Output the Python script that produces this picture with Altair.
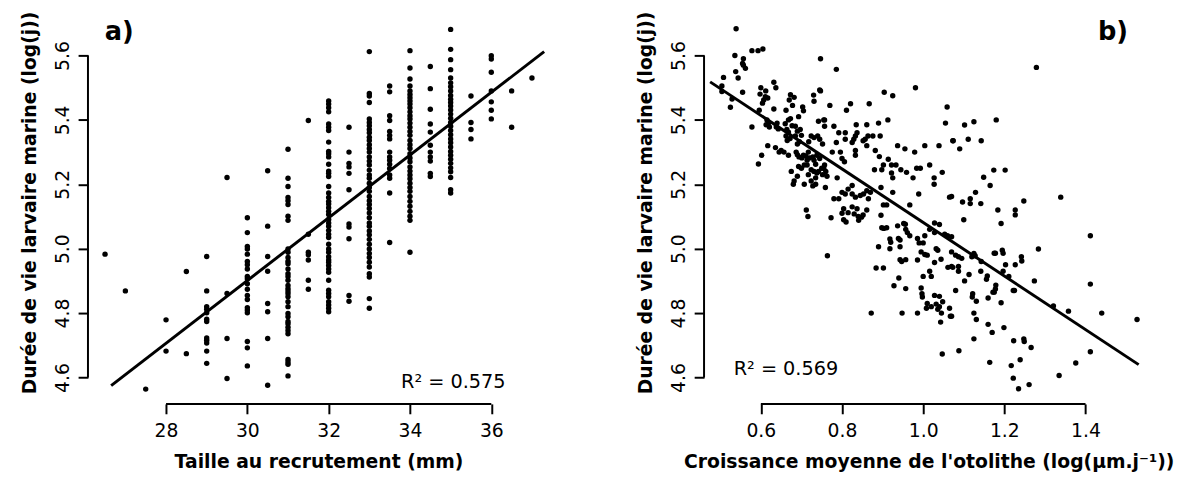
import altair as alt
import pandas as pd

# ---------------- Panel a data: y values per x column (Taille au recrutement, mm)
a_cols = {
    26.5: [4.983],
    27.0: [4.869],
    27.5: [4.564],
    28.0: [4.779, 4.682],
    28.5: [4.929, 4.674],
    29.0: [4.976, 4.869, 4.820, 4.812, 4.801, 4.781, 4.774, 4.723, 4.716, 4.707, 4.682, 4.644],
    29.5: [5.221, 4.861, 4.721, 4.597],
    30.0: [5.096, 5.050, 5.007, 4.999, 4.983, 4.960, 4.950, 4.937, 4.914, 4.907, 4.891, 4.874,
           4.855, 4.842, 4.817, 4.810, 4.801, 4.712, 4.692, 4.636],
    30.5: [5.242, 5.070, 4.976, 4.930, 4.830, 4.804, 4.721, 4.576],
    31.0: [5.309, 5.219, 5.193, 5.159, 5.149, 5.137, 5.101, 5.088, 4.999, 4.989, 4.973, 4.961,
           4.953, 4.937, 4.922, 4.914, 4.902, 4.886, 4.876, 4.869, 4.861, 4.851, 4.835, 4.820,
           4.799, 4.789, 4.774, 4.767, 4.756, 4.746, 4.736, 4.656, 4.648, 4.641, 4.605],
    31.5: [5.398, 5.045, 4.989, 4.981, 4.965, 4.902, 4.874],
    32.0: [5.459, 5.449, 5.438, 5.425, 5.387, 5.377, 5.367, 5.331, 5.302, 5.295, 5.285, 5.262,
           5.241, 5.234, 5.224, 5.193, 5.173, 5.159, 5.147, 5.139, 5.127, 5.116, 5.106, 5.091,
           5.080, 5.070, 5.057, 5.045, 5.035, 5.014, 4.999, 4.989, 4.975, 4.965, 4.958, 4.948,
           4.937, 4.927, 4.902, 4.871, 4.861, 4.851, 4.835, 4.825, 4.815, 4.804],
    32.5: [5.377, 5.300, 5.265, 5.254, 5.234, 5.183, 5.077, 5.067, 5.031, 4.855, 4.837],
    33.0: [5.612, 5.482, 5.474, 5.454, 5.403, 5.392, 5.382, 5.370, 5.360, 5.346, 5.336, 5.323,
           5.311, 5.300, 5.285, 5.272, 5.260, 5.244, 5.229, 5.219, 5.203, 5.190, 5.178, 5.162,
           5.149, 5.137, 5.125, 5.111, 5.096, 5.080, 5.070, 5.055, 5.043, 5.029, 5.014, 4.999,
           4.985, 4.973, 4.958, 4.943, 4.922, 4.912, 4.845, 4.815],
    33.5: [5.505, 5.487, 5.413, 5.398, 5.364, 5.352, 5.341, 5.300, 5.285, 5.275, 5.262, 5.249,
           5.229, 5.219, 5.173, 5.019],
    34.0: [5.615, 5.561, 5.527, 5.505, 5.490, 5.479, 5.469, 5.459, 5.449, 5.438, 5.425, 5.413,
           5.403, 5.390, 5.377, 5.364, 5.352, 5.336, 5.323, 5.311, 5.295, 5.282, 5.270, 5.254,
           5.241, 5.229, 5.217, 5.203, 5.190, 5.178, 5.162, 5.147, 5.132, 5.116, 5.101, 5.088,
           4.989],
    34.5: [5.566, 5.497, 5.433, 5.387, 5.362, 5.321, 5.300, 5.285, 5.272, 5.234, 5.224],
    35.0: [5.681, 5.619, 5.587, 5.556, 5.530, 5.515, 5.503, 5.490, 5.476, 5.464, 5.454, 5.443,
           5.431, 5.418, 5.405, 5.392, 5.380, 5.367, 5.354, 5.341, 5.329, 5.316, 5.302, 5.290,
           5.278, 5.265, 5.251, 5.239, 5.221, 5.183, 5.173],
    35.5: [5.474, 5.392, 5.370, 5.341],
    36.0: [5.599, 5.589, 5.548, 5.490, 5.456, 5.430, 5.403],
    36.5: [5.490, 5.377],
    37.0: [5.530],
}
a_x = [x for x, ys in a_cols.items() for _ in ys]
a_y = [y for ys in a_cols.values() for y in ys]
a_fit_x = [26.65, 37.30]
a_fit_y = [4.575, 5.612]

# ---------------- Panel b data: (croissance moyenne, duree de vie)
b_points = [
    # upper left cloud
    (0.539, 5.683), (0.536, 5.600), (0.557, 5.590), (0.578, 5.615), (0.593, 5.615), (0.605, 5.620),
    (0.557, 5.570), (0.562, 5.560), (0.555, 5.575), (0.538, 5.550), (0.544, 5.530), (0.508, 5.532),
    (0.504, 5.505), (0.504, 5.488), (0.529, 5.465), (0.525, 5.439), (0.555, 5.486),
    (0.600, 5.500), (0.598, 5.480), (0.612, 5.490), (0.611, 5.472), (0.617, 5.468), (0.607, 5.462),
    (0.604, 5.452), (0.632, 5.517), (0.637, 5.500), (0.596, 5.430), (0.578, 5.378), (0.632, 5.434),
    (0.662, 5.430), (0.670, 5.462), (0.673, 5.478), (0.682, 5.470), (0.678, 5.445),
    (0.703, 5.440), (0.705, 5.428), (0.693, 5.410), (0.730, 5.477), (0.731, 5.458), (0.745, 5.493),
    (0.742, 5.396), (0.755, 5.400),
    (0.615, 5.400), (0.619, 5.390), (0.621, 5.378), (0.613, 5.385),
    (0.640, 5.390), (0.643, 5.372), (0.638, 5.378),
    (0.660, 5.388), (0.664, 5.370), (0.668, 5.400), (0.673, 5.404), (0.677, 5.382), (0.685, 5.380),
    (0.668, 5.362), (0.662, 5.350), (0.665, 5.336), (0.672, 5.342), (0.685, 5.350), (0.690, 5.365),
    (0.697, 5.370), (0.700, 5.352), (0.690, 5.325), (0.695, 5.332),
    (0.718, 5.332), (0.724, 5.350), (0.731, 5.345), (0.740, 5.350), (0.745, 5.340), (0.752, 5.325),
    (0.617, 5.320), (0.636, 5.314), (0.645, 5.300), (0.650, 5.305), (0.657, 5.300), (0.668, 5.290),
    (0.602, 5.290), (0.594, 5.263),
    (0.687, 5.300), (0.690, 5.292), (0.694, 5.285), (0.701, 5.282), (0.705, 5.290), (0.711, 5.288),
    (0.714, 5.275), (0.717, 5.300), (0.720, 5.282), (0.728, 5.285), (0.731, 5.275), (0.735, 5.262),
    (0.738, 5.290), (0.745, 5.280),
    (0.675, 5.240), (0.682, 5.210), (0.690, 5.225), (0.693, 5.255), (0.700, 5.250), (0.707, 5.260),
    (0.714, 5.260), (0.717, 5.230), (0.724, 5.245), (0.731, 5.240), (0.735, 5.220), (0.738, 5.235),
    (0.742, 5.240), (0.750, 5.250),
    (0.707, 5.200), (0.724, 5.210), (0.728, 5.195), (0.735, 5.200), (0.680, 5.200), (0.712, 5.120),
    (0.716, 5.100),
    # upper middle
    (0.747, 5.590), (0.786, 5.557), (0.747, 5.490), (0.770, 5.445), (0.821, 5.450), (0.811, 5.430),
    (0.867, 5.450), (0.904, 5.486), (0.925, 5.475), (0.981, 5.500), (1.059, 5.440), (1.055, 5.390),
    (1.073, 5.335),
    (0.757, 5.400), (0.757, 5.380), (0.780, 5.380), (0.792, 5.360), (0.808, 5.360), (0.808, 5.340),
    (0.786, 5.330), (0.829, 5.340), (0.833, 5.350), (0.837, 5.360), (0.825, 5.330), (0.835, 5.385),
    (0.861, 5.385), (0.890, 5.390), (0.913, 5.400),
    (0.852, 5.335), (0.857, 5.340), (0.864, 5.350), (0.876, 5.350), (0.894, 5.350), (0.861, 5.320),
    (0.882, 5.305), (0.937, 5.320), (0.955, 5.310), (0.979, 5.300), (1.004, 5.320), (1.039, 5.320),
    (0.776, 5.300), (0.796, 5.300), (0.833, 5.305), (0.833, 5.290), (0.800, 5.280), (0.806, 5.270),
    (0.755, 5.250), (0.760, 5.240), (0.752, 5.230), (0.763, 5.225), (0.757, 5.260), (0.788, 5.220),
    (0.759, 5.190),
    (0.892, 5.286), (0.914, 5.278), (0.902, 5.260), (0.922, 5.260), (0.933, 5.260), (0.880, 5.245),
    (0.898, 5.245), (0.922, 5.235), (0.925, 5.220), (0.945, 5.245), (0.959, 5.237), (0.975, 5.220),
    (0.984, 5.250), (0.993, 5.250), (1.016, 5.260), (1.027, 5.220), (1.027, 5.200), (1.047, 5.237),
    (0.989, 5.170), (1.065, 5.160), (0.896, 5.190), (0.925, 5.175), (0.967, 5.136), (0.902, 5.136),
    (0.910, 5.136), (0.865, 5.155), (0.853, 5.170), (0.861, 5.180),
    (0.825, 5.196), (0.825, 5.170), (0.833, 5.160), (0.800, 5.175), (0.808, 5.170), (0.792, 5.155),
    (0.780, 5.155), (0.804, 5.124), (0.825, 5.130), (0.837, 5.124), (0.861, 5.120),
    (0.815, 5.185), (0.845, 5.165), (0.870, 5.175),
    # upper right
    (1.279, 5.563), (1.102, 5.384), (1.125, 5.394), (1.180, 5.400), (1.074, 5.335), (1.111, 5.340),
    (1.143, 5.335), (1.090, 5.310), (1.174, 5.244), (1.202, 5.244), (1.149, 5.222), (1.165, 5.196),
    (1.129, 5.175), (1.070, 5.162), (1.116, 5.155), (1.097, 5.145), (1.116, 5.140), (1.142, 5.140),
    (1.184, 5.120), (1.227, 5.120), (1.248, 5.148), (1.339, 5.160),
    # lower middle
    (0.800, 5.110), (0.815, 5.112), (0.830, 5.108), (0.852, 5.105), (0.840, 5.100), (0.848, 5.098),
    (0.773, 5.096), (0.804, 5.090), (0.810, 5.083), (0.841, 5.088), (0.896, 5.104), (0.898, 5.065),
    (0.903, 5.063), (0.910, 5.065), (0.937, 5.071), (0.952, 5.078), (0.956, 5.076), (0.957, 5.060),
    (0.961, 5.050), (0.967, 5.040), (0.939, 5.032), (0.943, 5.027), (0.918, 5.030), (0.920, 5.020),
    (0.918, 5.000), (0.890, 5.006), (0.943, 5.006), (0.986, 5.032), (0.990, 5.018), (1.000, 5.018),
    (1.004, 5.040), (1.016, 5.060), (1.028, 5.080), (1.040, 5.075), (1.028, 5.050), (1.053, 5.045),
    (1.060, 5.040), (1.036, 4.995), (1.032, 5.000), (0.995, 4.990), (1.004, 4.982), (1.010, 4.980),
    (0.943, 4.966), (0.947, 4.960), (0.957, 4.966), (0.986, 4.965), (1.028, 4.957), (1.044, 4.967),
    (1.061, 4.942), (1.073, 4.942), (0.884, 4.940), (0.902, 4.940), (0.764, 4.978), (1.016, 4.930),
    (1.020, 4.914), (1.000, 4.914), (0.940, 4.909), (0.928, 4.885), (0.957, 4.876), (0.995, 4.878),
    (0.997, 4.860), (0.998, 4.850), (1.028, 4.855), (1.040, 4.852), (1.048, 4.835), (1.010, 4.830),
    (1.020, 4.820), (1.032, 4.828), (1.036, 4.812), (1.040, 4.820), (1.008, 4.815), (1.045, 4.800),
    (1.065, 4.815), (1.067, 4.790), (1.043, 4.772), (0.872, 4.800), (0.948, 4.800), (0.986, 4.800),
    (1.047, 4.673),
    # lower right
    (1.227, 5.105), (1.100, 5.090), (1.192, 5.078), (1.070, 5.037), (1.070, 4.990), (1.080, 4.980),
    (1.087, 4.975), (1.095, 4.970), (1.125, 4.985), (1.128, 4.978), (1.120, 4.975), (1.175, 4.986),
    (1.178, 4.986), (1.195, 4.995), (1.197, 4.986), (1.242, 4.975), (1.243, 4.962), (1.284, 4.999),
    (1.070, 4.945), (1.087, 4.945), (1.087, 4.930), (1.143, 4.960), (1.203, 4.950), (1.227, 4.950),
    (1.197, 4.930), (1.142, 4.930), (1.113, 4.920), (1.158, 4.915), (1.156, 4.905), (1.211, 4.914),
    (1.274, 4.900), (1.102, 4.900), (1.179, 4.887), (1.178, 4.875), (1.222, 4.870), (1.225, 4.870),
    (1.080, 4.870), (1.172, 4.865), (1.175, 4.865), (1.160, 4.847), (1.122, 4.860), (1.121, 4.850),
    (1.131, 4.837), (1.192, 4.832), (1.321, 4.822), (1.358, 4.806), (1.125, 4.800), (1.070, 4.790),
    (1.131, 4.780), (1.160, 4.765), (1.199, 4.755), (1.170, 4.740), (1.125, 4.720), (1.223, 4.714),
    (1.248, 4.720), (1.249, 4.712), (1.266, 4.693), (1.088, 4.683), (1.164, 4.647), (1.239, 4.655),
    (1.217, 4.637), (1.376, 4.645), (1.335, 4.606), (1.222, 4.598), (1.261, 4.578), (1.235, 4.565),
    # far right
    (1.412, 5.040), (1.412, 4.890), (1.440, 4.800), (1.527, 4.780), (1.412, 4.680),
]
b_x = [p[0] for p in b_points]
b_y = [p[1] for p in b_points]
b_fit_x = [0.475, 1.531]
b_fit_y = [5.518, 4.640]

y_ticks = [4.6, 4.8, 5.0, 5.2, 5.4, 5.6]
y_domain = [4.518, 5.726]
a_x_ticks = [28, 30, 32, 34, 36]
a_x_domain = [26.08, 37.42]
b_x_ticks = [0.6, 0.8, 1.0, 1.2, 1.4]
b_x_domain = [0.46, 1.567]

Y_TITLE = "Durée de vie larvaire marine (log(j))"
A_X_TITLE = "Taille au recrutement (mm)"
B_X_TITLE = "Croissance moyenne de l'otolithe (log(µm.j⁻¹))"

H = 394
FONT = "DejaVu Sans"


def panel(xs, ys, fx, fy, xdom, xticks, xtitle, xfmt, label, lab_x, r2, r2_x, r2_y, r2_align, width):
    pts = pd.DataFrame({"x": xs, "y": ys})
    fit = pd.DataFrame({"x": fx, "y": fy})
    xscale = alt.Scale(domain=xdom, nice=False, zero=False)
    yscale = alt.Scale(domain=y_domain, nice=False, zero=False)
    xaxis = alt.Axis(values=xticks, format=xfmt, title=xtitle, domain=False, grid=False,
                     tickSize=10, tickWidth=2, tickColor="black", labelFontSize=19,
                     labelFont=FONT, labelColor="black", labelPadding=8,
                     titleFont=FONT, titleFontSize=19, titleFontWeight="bold",
                     titleColor="black", titlePadding=12)
    yaxis = alt.Axis(values=y_ticks, format=".1f", title=Y_TITLE, domain=False, grid=False,
                     tickSize=10, tickWidth=2, tickColor="black", labelFontSize=19,
                     labelFont=FONT, labelColor="black", labelAngle=270,
                     labelAlign="center", labelBaseline="bottom", labelPadding=6,
                     titleFont=FONT, titleFontSize=19, titleFontWeight="bold",
                     titleColor="black", titlePadding=14, titleY=190)
    points = alt.Chart(pts).mark_circle(size=30, color="black", opacity=1).encode(
        x=alt.X("x:Q", scale=xscale, axis=xaxis),
        y=alt.Y("y:Q", scale=yscale, axis=yaxis),
    )
    line = alt.Chart(fit).mark_line(color="black", strokeWidth=3).encode(
        x=alt.X("x:Q", scale=xscale), y=alt.Y("y:Q", scale=yscale))
    # R-style axis lines spanning the first to the last tick
    xline = alt.Chart(pd.DataFrame({"x": [xticks[0], xticks[-1]],
                                    "y": [y_domain[0], y_domain[0]]})).mark_line(
        color="black", strokeWidth=2).encode(
        x=alt.X("x:Q", scale=xscale), y=alt.Y("y:Q", scale=yscale))
    yline = alt.Chart(pd.DataFrame({"x": [xdom[0], xdom[0]],
                                    "y": [y_ticks[0], y_ticks[-1]]})).mark_line(
        color="black", strokeWidth=2).encode(
        x=alt.X("x:Q", scale=xscale), y=alt.Y("y:Q", scale=yscale))
    lab = alt.Chart(pd.DataFrame({"t": [label]})).mark_text(
        font=FONT, fontSize=26, fontWeight="bold", align="left", baseline="middle",
        color="black").encode(text="t:N", x=alt.value(lab_x), y=alt.value(17))
    r2t = alt.Chart(pd.DataFrame({"t": [r2]})).mark_text(
        font=FONT, fontSize=19.5, align=r2_align, baseline="middle", color="black").encode(
        text="t:N", x=alt.value(r2_x), y=alt.value(r2_y))
    return alt.layer(points, line, xline, yline, lab, r2t).properties(width=width, height=H)


pa = panel(a_x, a_y, a_fit_x, a_fit_y, a_x_domain, a_x_ticks, A_X_TITLE, "d",
           "a)", 17, "R² = 0.575", 423, 372, "right", 467)
pb = panel(b_x, b_y, b_fit_x, b_fit_y, b_x_domain, b_x_ticks, B_X_TITLE, ".1f",
           "b)", 399, "R² = 0.569", 30, 359, "left", 455)

chart = alt.hconcat(pa, pb, spacing=87).properties(
    padding={"left": 13, "top": 0, "right": 0, "bottom": 0}
).configure_view(stroke=None)

chart.save("out.html", embed_options={"renderer": "svg", "actions": False})
